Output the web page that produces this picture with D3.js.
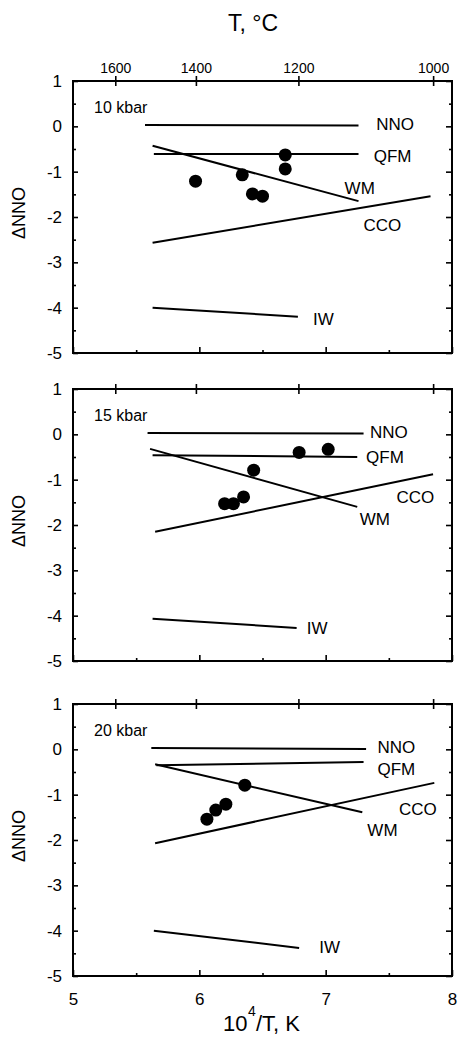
<!DOCTYPE html>
<html>
<head>
<meta charset="utf-8">
<script src="https://cdn.jsdelivr.net/npm/d3@7"></script>
<style>
  body { margin: 0; background: #fff; overflow: hidden; }
  svg { display: block; font-family: "Liberation Sans", Arial, Helvetica, sans-serif; }
</style>
</head>
<body>
<svg width="458" height="1042"></svg>
<script>
// axes
var xDomain = [5, 8];
var yDomain = [-5, 1];
var xMajor = [5, 6, 7, 8];
var xMinor = [5.5, 6.5, 7.5];
var yMajor = [1, 0, -1, -2, -3, -4, -5];
var yMinor = [0.5, -0.5, -1.5, -2.5, -3.5, -4.5];
var tempTicks = [1600, 1400, 1200, 1000];   // deg C, top axis

var pressures = ["10 kbar", "15 kbar", "20 kbar"];
var bufferNames = ["NNO", "QFM", "WM", "CCO", "IW"];

// buffer curves: [[x1, y1], [x2, y2]] in 10^4/T and dNNO, order as bufferNames
var buffers10 = [
    [[5.57, 0.03], [7.26, 0.02]],
    [[5.64, -0.61], [7.26, -0.61]],
    [[5.63, -0.43], [7.26, -1.65]],
    [[5.63, -2.57], [7.83, -1.54]],
    [[5.63, -4.0], [6.78, -4.2]]
];
var buffers15 = [
    [[5.59, 0.03], [7.30, 0.02]],
    [[5.63, -0.46], [7.25, -0.5]],
    [[5.61, -0.32], [7.25, -1.6]],
    [[5.65, -2.15], [7.85, -0.88]],
    [[5.63, -4.07], [6.77, -4.27]]
];
var buffers20 = [
    [[5.62, 0.03], [7.32, 0.01]],
    [[5.66, -0.35], [7.30, -0.28]],
    [[5.65, -0.33], [7.29, -1.39]],
    [[5.65, -2.07], [7.86, -0.74]],
    [[5.64, -4.0], [6.79, -4.38]]
];

// label anchors (left edge, middle) in data units, order as bufferNames
var labels10 = [[7.40, 0.05], [7.38, -0.66], [7.15, -1.36], [7.30, -2.18], [6.90, -4.25]];
var labels15 = [[7.35, 0.05], [7.32, -0.5], [7.27, -1.87], [7.56, -1.38], [6.85, -4.27]];
var labels20 = [[7.41, 0.05], [7.41, -0.43], [7.33, -1.78], [7.58, -1.31], [6.95, -4.36]];

// experiments
var points10 = [[5.97, -1.21], [6.34, -1.07], [6.42, -1.49], [6.50, -1.54], [6.68, -0.63], [6.68, -0.94]];
var points15 = [[6.20, -1.53], [6.27, -1.53], [6.35, -1.38], [6.43, -0.79], [6.79, -0.40], [7.02, -0.33]];
var points20 = [[6.06, -1.54], [6.13, -1.34], [6.21, -1.21], [6.36, -0.79]];

var panels = [
    { title: pressures[0], buffers: buffers10, labels: labels10, points: points10, top: 81 },
    { title: pressures[1], buffers: buffers15, labels: labels15, points: points15, top: 389 },
    { title: pressures[2], buffers: buffers20, labels: labels20, points: points20, top: 704 }
];

var svg = d3.select("svg");
var left = 73, right = 452, panelHeight = 272;

var x = d3.scaleLinear().domain(xDomain).range([left, right]);

function tempToX(t) {
    return x(1e4 / (t + 273.15));
}

// plain hyphen minus, like the original
function plain(d) {
    return String(d);
}

panels.forEach(function (p, i) {
    var y = d3.scaleLinear().domain(yDomain).range([p.top + panelHeight, p.top]);
    var g = svg.append("g");

    // left axis
    g.append("g")
        .attr("transform", "translate(" + left + ",0)")
        .call(d3.axisLeft(y).tickValues(yMajor).tickSize(-5).tickSizeOuter(0).tickPadding(11).tickFormat(plain))
        .call(function (a) {
            a.select(".domain").remove();
            a.selectAll("text").style("font-size", "17px").attr("fill", "#000");
        });
    g.append("g")
        .attr("transform", "translate(" + left + ",0)")
        .call(d3.axisLeft(y).tickValues(yMinor).tickSize(-3).tickSizeOuter(0).tickFormat(""))
        .call(function (a) { a.select(".domain").remove(); });

    // right axis
    g.append("g")
        .attr("transform", "translate(" + right + ",0)")
        .call(d3.axisRight(y).tickValues(yMajor).tickSize(-6).tickSizeOuter(0).tickFormat(""))
        .call(function (a) { a.select(".domain").remove(); });
    g.append("g")
        .attr("transform", "translate(" + right + ",0)")
        .call(d3.axisRight(y).tickValues(yMinor).tickSize(-3).tickSizeOuter(0).tickFormat(""))
        .call(function (a) { a.select(".domain").remove(); });

    // bottom axis
    var bottom = p.top + panelHeight;
    g.append("g")
        .attr("transform", "translate(0," + bottom + ")")
        .call(d3.axisBottom(x).tickValues(xMajor).tickSize(-6).tickSizeOuter(0).tickPadding(17)
            .tickFormat(i == 2 ? plain : ""))
        .call(function (a) {
            a.select(".domain").remove();
            a.selectAll("text").style("font-size", "17px").attr("fill", "#000");
        });
    g.append("g")
        .attr("transform", "translate(0," + bottom + ")")
        .call(d3.axisBottom(x).tickValues(xMinor).tickSize(-3).tickSizeOuter(0).tickFormat(""))
        .call(function (a) { a.select(".domain").remove(); });

    // top temperature ticks, crossing the frame
    tempTicks.forEach(function (t) {
        g.append("line")
            .attr("x1", tempToX(t)).attr("x2", tempToX(t))
            .attr("y1", p.top - 5).attr("y2", p.top + 5)
            .attr("stroke", "#000").attr("stroke-width", 1.6);
        if (i == 0) {
            g.append("text")
                .attr("x", tempToX(t))
                .attr("y", p.top - 8)
                .attr("text-anchor", "middle")
                .style("font-size", "14px")
                .text(t);
        }
    });

    g.selectAll(".tick line").attr("stroke", "#000").attr("stroke-width", 1.6);

    // frame
    g.append("rect")
        .attr("x", left).attr("y", p.top)
        .attr("width", right - left).attr("height", panelHeight)
        .attr("fill", "none").attr("stroke", "#000").attr("stroke-width", 2);

    // buffer lines
    var line = d3.line()
        .x(function (d) { return x(d[0]); })
        .y(function (d) { return y(d[1]); });
    g.selectAll(".buffer")
        .data(p.buffers)
        .enter().append("path")
        .attr("class", "buffer")
        .attr("d", line)
        .attr("fill", "none")
        .attr("stroke", "#000")
        .attr("stroke-width", 2);

    g.selectAll(".blabel")
        .data(p.labels)
        .enter().append("text")
        .attr("class", "blabel")
        .attr("x", function (d) { return x(d[0]); })
        .attr("y", function (d) { return y(d[1]); })
        .attr("dy", "0.36em")
        .style("font-size", "17px")
        .text(function (d, j) { return bufferNames[j]; });

    // data points
    g.selectAll(".pt")
        .data(p.points)
        .enter().append("circle")
        .attr("class", "pt")
        .attr("cx", function (d) { return x(d[0]); })
        .attr("cy", function (d) { return y(d[1]); })
        .attr("r", 6.5)
        .attr("fill", "#000");

    // pressure label
    g.append("text")
        .attr("x", left + 21)
        .attr("y", p.top + 32)
        .style("font-size", "16px")
        .text(p.title);

    // y axis title
    g.append("text")
        .attr("transform", "translate(25," + (p.top + panelHeight / 2 - 4) + ") rotate(-90)")
        .attr("text-anchor", "middle")
        .style("font-size", "18px")
        .text("ΔNNO");
});

// top title
svg.append("text")
    .attr("x", 253).attr("y", 31)
    .attr("text-anchor", "middle")
    .style("font-size", "23px")
    .text("T, °C");

// bottom title, superscript as its own text so nothing shifts the baseline
svg.append("text")
    .attr("x", 223).attr("y", 1031)
    .style("font-size", "22px")
    .text("10");
svg.append("text")
    .attr("x", 248).attr("y", 1016)
    .style("font-size", "14px")
    .text("4");
svg.append("text")
    .attr("x", 256).attr("y", 1031)
    .style("font-size", "22px")
    .text("/T, K");
</script>
</body>
</html>
